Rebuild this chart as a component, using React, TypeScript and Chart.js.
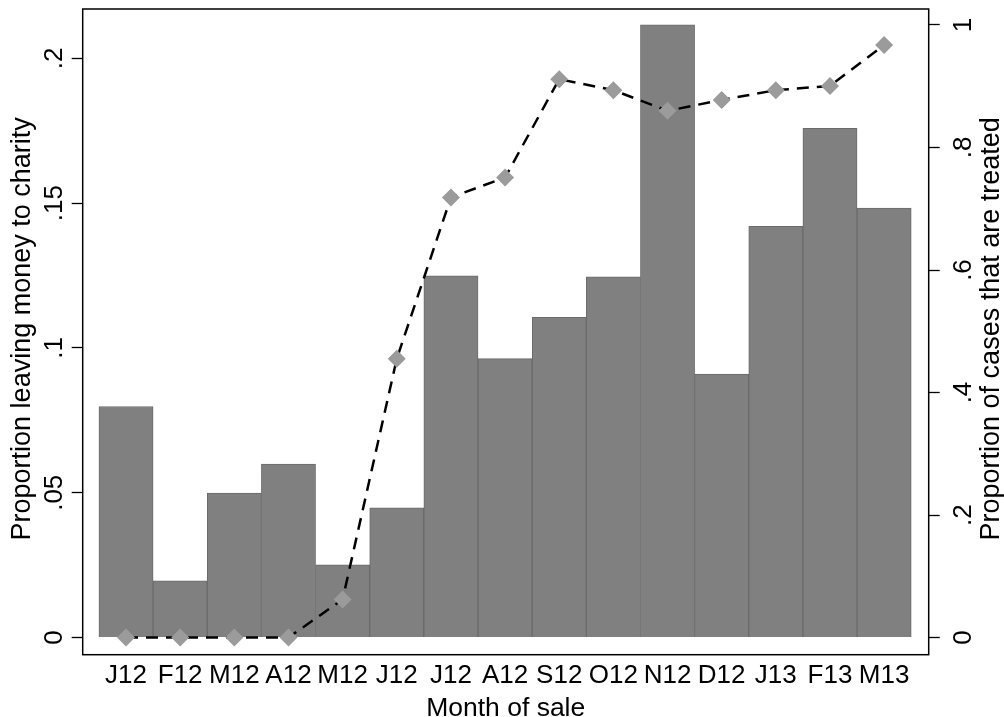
import React, { useEffect, useRef } from 'react';
import { Chart, registerables } from 'chart.js';

Chart.register(...registerables);

const months = ['J12', 'F12', 'M12', 'A12', 'M12', 'J12', 'J12', 'A12', 'S12', 'O12', 'N12', 'D12', 'J13', 'F13', 'M13'];
const charityShare = [0.0798, 0.0196, 0.0499, 0.0599, 0.0251, 0.0448, 0.1249, 0.0963, 0.1106, 0.1246, 0.2116, 0.091, 0.142, 0.1759, 0.1483];
const treatedShare = [0, 0, 0, 0, 0.0623, 0.4551, 0.7185, 0.7511, 0.9115, 0.8936, 0.8598, 0.8777, 0.8936, 0.9006, 0.9674];
const leftTicks = [0, 0.05, 0.1, 0.15, 0.2];
const leftTickLabels = ['0', '.05', '.1', '.15', '.2'];
const rightTicks = [0, 0.2, 0.4, 0.6, 0.8, 1];
const rightTickLabels = ['0', '.2', '.4', '.6', '.8', '1'];
const xTitle = 'Month of sale';
const leftTitle = 'Proportion leaving money to charity';
const rightTitle = 'Proportion of cases that are treated';

const FONT = '"Liberation Sans", Arial, Helvetica, sans-serif';

export default function App() {
  const ref = useRef<HTMLCanvasElement>(null);

  useEffect(() => {
    document.body.style.margin = '0';
    const canvas = ref.current;
    if (!canvas) return;

    const stataText = {
      id: 'stataText',
      afterDraw(chart: any) {
        const { ctx, chartArea: a, scales } = chart;
        ctx.save();
        ctx.strokeStyle = '#000';
        ctx.lineWidth = 1.5;
        ctx.strokeRect(a.left, a.top, a.right - a.left, a.bottom - a.top);
        ctx.fillStyle = '#000';
        ctx.textAlign = 'center';
        ctx.textBaseline = 'alphabetic';
        const rot = (text: string, x: number, y: number) => {
          ctx.save();
          ctx.translate(x, y);
          ctx.rotate(-Math.PI / 2);
          ctx.fillText(text, 0, 0);
          ctx.restore();
        };
        ctx.font = `26px ${FONT}`;
        scales.y.ticks.forEach((t: any, i: number) => rot(leftTickLabels[i], 62, scales.y.getPixelForValue(t.value)));
        scales.y1.ticks.forEach((t: any, i: number) => rot(rightTickLabels[i], 970.5, scales.y1.getPixelForValue(t.value)));
        ctx.font = `27px ${FONT}`;
        const midY = (a.top + a.bottom) / 2 - 3;
        rot(leftTitle, 29.5, midY);
        rot(rightTitle, 999, midY);
        ctx.font = `26.5px ${FONT}`;
        ctx.fillText(xTitle, (a.left + a.right) / 2, 715.5);
        ctx.restore();
      },
    };

    const chart = new Chart(canvas, {
      type: 'bar',
      data: {
        datasets: [
          {
            type: 'line',
            data: treatedShare.map((v, i) => ({ x: i, y: v })),
            yAxisID: 'y1',
            xAxisID: 'x',
            borderColor: '#000',
            borderWidth: 2.5,
            borderDash: [12, 8],
            fill: false,
            tension: 0,
            pointStyle: 'rectRot',
            pointRadius: 9,
            pointBackgroundColor: '#9b9b9b',
            pointBorderColor: '#9b9b9b',
            pointBorderWidth: 0,
            order: 0,
          } as any,
          {
            type: 'bar',
            data: charityShare.map((v, i) => ({ x: i, y: v })),
            yAxisID: 'y',
            xAxisID: 'x',
            backgroundColor: '#808080',
            borderColor: '#6a6a6a',
            borderWidth: 1,
            barPercentage: 1,
            categoryPercentage: 1,
            order: 1,
          } as any,
        ],
      },
      options: {
        responsive: false,
        animation: false,
        layout: { padding: { top: 8, left: 0, right: 0, bottom: 0 } },
        plugins: { legend: { display: false }, tooltip: { enabled: false } },
        scales: {
          x: {
            type: 'linear',
            position: 'bottom',
            offset: false,
            min: -0.8,
            max: 14.823,
            afterBuildTicks: (s: any) => {
              s.ticks = months.map((_, i) => ({ value: i }));
            },
            afterFit: (s: any) => {
              s.height = 62.3;
            },
            ticks: {
              callback: (v: any) => months[Math.round(Number(v))],
              color: '#000',
              font: { family: FONT, size: 26, lineHeight: 1.2 },
              padding: 6,
              maxRotation: 0,
              minRotation: 0,
              autoSkip: false,
            },
            grid: { display: false, drawTicks: false, offset: false },
            border: { display: false },
          },
          y: {
            type: 'linear',
            position: 'left',
            min: -0.00593,
            max: 0.21707,
            afterBuildTicks: (s: any) => {
              s.ticks = leftTicks.map((v) => ({ value: v }));
            },
            afterFit: (s: any) => {
              s.width = 82.7;
            },
            ticks: { display: false },
            grid: { display: true, drawOnChartArea: false, drawTicks: true, tickLength: 11, tickColor: '#000', tickWidth: 1.3 },
            border: { display: false },
          },
          y1: {
            type: 'linear',
            position: 'right',
            min: -0.028,
            max: 1.0261,
            afterBuildTicks: (s: any) => {
              s.ticks = rightTicks.map((v) => ({ value: v }));
            },
            afterFit: (s: any) => {
              s.width = 75.3;
            },
            ticks: { display: false },
            grid: { display: true, drawOnChartArea: false, drawTicks: true, tickLength: 11, tickColor: '#000', tickWidth: 1.3 },
            border: { display: false },
          },
        },
      },
      plugins: [stataText],
    } as any);

    return () => chart.destroy();
  }, []);

  return (
    <div style={{ width: 1004, height: 717, background: '#fff' }}>
      <canvas ref={ref} width={1004} height={717} style={{ display: 'block' }} />
    </div>
  );
}
